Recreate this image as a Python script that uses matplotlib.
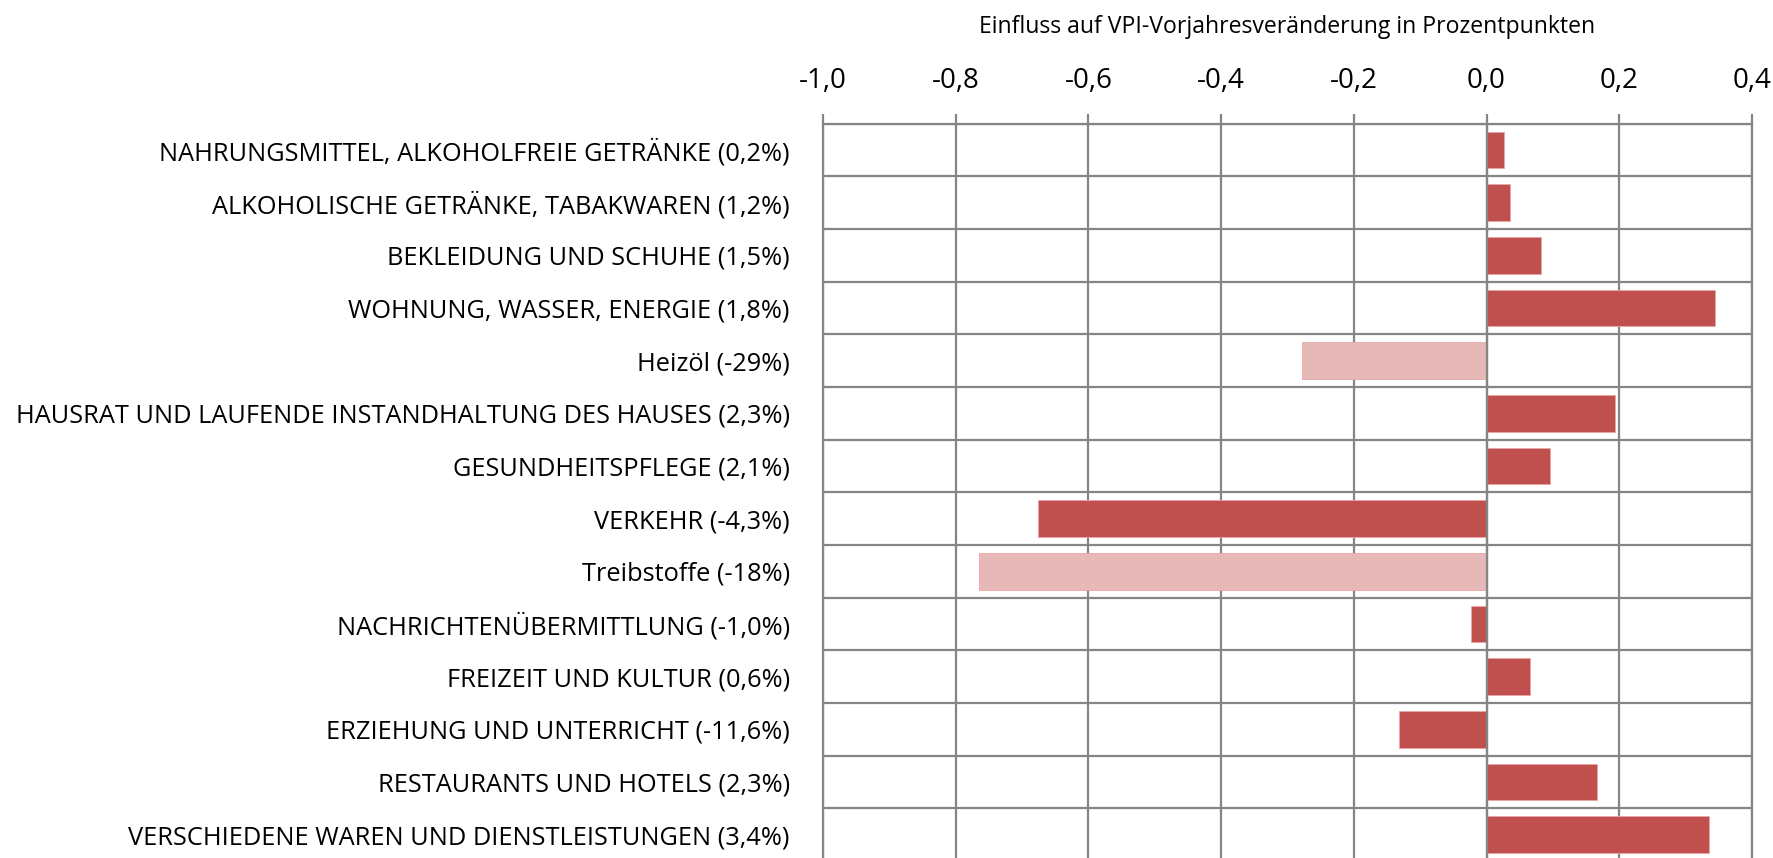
import numpy as np
import matplotlib
matplotlib.use("Agg")
import matplotlib.pyplot as plt

# categories from top to bottom, values in percentage points
categories = [
    "NAHRUNGSMITTEL, ALKOHOLFREIE GETRÄNKE (0,2%)",
    "ALKOHOLISCHE GETRÄNKE, TABAKWAREN (1,2%)",
    "BEKLEIDUNG UND SCHUHE (1,5%)",
    "WOHNUNG, WASSER, ENERGIE (1,8%)",
    "Heizöl (-29%)",
    "HAUSRAT UND LAUFENDE INSTANDHALTUNG DES HAUSES (2,3%)",
    "GESUNDHEITSPFLEGE (2,1%)",
    "VERKEHR (-4,3%)",
    "Treibstoffe (-18%)",
    "NACHRICHTENÜBERMITTLUNG (-1,0%)",
    "FREIZEIT UND KULTUR (0,6%)",
    "ERZIEHUNG UND UNTERRICHT (-11,6%)",
    "RESTAURANTS UND HOTELS (2,3%)",
    "VERSCHIEDENE WAREN UND DIENSTLEISTUNGEN (3,4%)",
]
values = [0.027, 0.036, 0.082, 0.344, -0.278, 0.194, 0.095,
          -0.676, -0.765, -0.024, 0.065, -0.132, 0.167, 0.335]
is_sub = [False, False, False, False, True, False, False,
          False, True, False, False, False, False, False]

x_ticks = [-1.0, -0.8, -0.6, -0.4, -0.2, 0.0, 0.2, 0.4]
x_label = "Einfluss auf VPI-Vorjahresveränderung in Prozentpunkten"

plt.rcParams["font.family"] = ["Open Sans", "DejaVu Sans"]
grid_col = "#858585"

fig = plt.figure(figsize=(17.74, 8.58), dpi=100)
ax = fig.add_axes([0.4639, -0.0035, 0.5237, 0.8593])

n = len(categories)
y = np.arange(n)
colors = ["#E6B9B8" if s else "#C0504D" for s in is_sub]
ax.barh(y, values, height=0.7, color=colors, edgecolor="#E8A6A5",
        linewidth=0.6, zorder=2)

ax.set_xlim(-1.0, 0.4)
ax.set_ylim(n - 0.5, -0.5)

ax.xaxis.tick_top()
ax.xaxis.set_label_position("top")
ax.set_xticks(x_ticks)
ax.set_xticklabels([f"{t:.1f}".replace(".", ",") for t in x_ticks], fontsize=20)
ax.tick_params(axis="x", direction="out", length=7, width=1.6, color=grid_col, pad=14)
ax.set_xlabel(x_label, fontsize=16.6, labelpad=24)

ax.set_yticks(y)
ax.set_yticklabels(categories, fontsize=18.3)
ax.set_yticks(np.arange(n + 1) - 0.5, minor=True)
ax.tick_params(axis="y", which="both", length=0, pad=24)

ax.grid(True, axis="x", which="major", color=grid_col, linewidth=1.6, zorder=1)
ax.grid(True, axis="y", which="minor", color=grid_col, linewidth=1.6, zorder=1)
ax.set_axisbelow(True)
ax.axvline(0, color=grid_col, linewidth=1.6, zorder=3)

for side in ["top", "left", "right", "bottom"]:
    ax.spines[side].set_color(grid_col)
    ax.spines[side].set_linewidth(1.6)

fig.savefig("out.png", dpi=100)
